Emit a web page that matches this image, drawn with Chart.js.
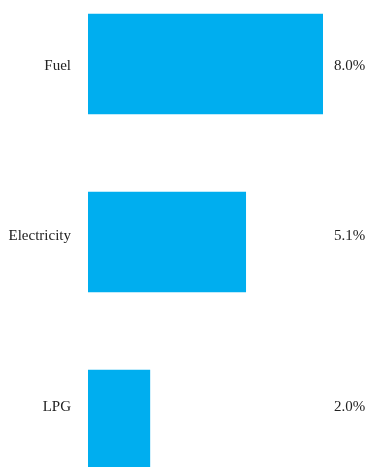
<!DOCTYPE html>
<html>
<head>
<meta charset="utf-8">
<script src="https://cdn.jsdelivr.net/npm/chart.js@4"></script>
<style>
html,body{margin:0;padding:0;background:#fff;overflow:hidden;width:366px;height:467px;}
#wrap{position:relative;width:366px;height:467px;overflow:hidden;}
#c{position:absolute;left:0;top:-25px;}
</style>
</head>
<body>
<div id="wrap"><canvas id="c" width="366" height="534"></canvas></div>
<script>
const categories = ['Fuel', 'Electricity', 'LPG'];
const values = [8.0, 5.1, 2.0];
const valueLabels = values.map(v => v.toFixed(1) + '%');

const FONT = {family: '"Liberation Serif", "Times New Roman", serif', size: 15};
const TEXT = '#222222';

function fixedTicks(axis) {
  axis.ticks = categories.map((_, i) => ({value: i}));
}
function fitTo(w) {
  return s => { s.width = w; s.paddingTop = 0; s.paddingBottom = 0; };
}

new Chart(document.getElementById('c'), {
  type: 'bar',
  data: {
    labels: categories,
    datasets: [{
      data: values,
      backgroundColor: '#00AEEF',
      borderWidth: 0,
      barThickness: 100,
      clip: 0,
      xAxisID: 'x',
      yAxisID: 'y'
    }]
  },
  options: {
    indexAxis: 'y',
    responsive: false,
    animation: false,
    layout: {padding: 0},
    plugins: {legend: {display: false}, tooltip: {enabled: false}},
    scales: {
      x: {type: 'linear', display: false, min: 0, max: 7.6},
      y: {type: 'category', display: false, offset: true},
      yl: {
        type: 'linear', position: 'left', reverse: true, bounds: 'data', offset: false,
        min: -0.534, max: 2.598,
        grid: {display: false, drawTicks: false, offset: false}, border: {display: false},
        afterBuildTicks: fixedTicks,
        afterFit: fitTo(88),
        ticks: {font: FONT, color: TEXT, padding: 17, autoSkip: false,
          callback: v => categories[v]}
      },
      yr: {
        type: 'linear', position: 'right', reverse: true, bounds: 'data', offset: false,
        min: -0.534, max: 2.598,
        grid: {display: false, drawTicks: false, offset: false}, border: {display: false},
        afterBuildTicks: fixedTicks,
        afterFit: fitTo(43),
        ticks: {font: FONT, color: TEXT, padding: 11, autoSkip: false,
          callback: v => valueLabels[v]}
      }
    }
  }
});
</script>
</body>
</html>
